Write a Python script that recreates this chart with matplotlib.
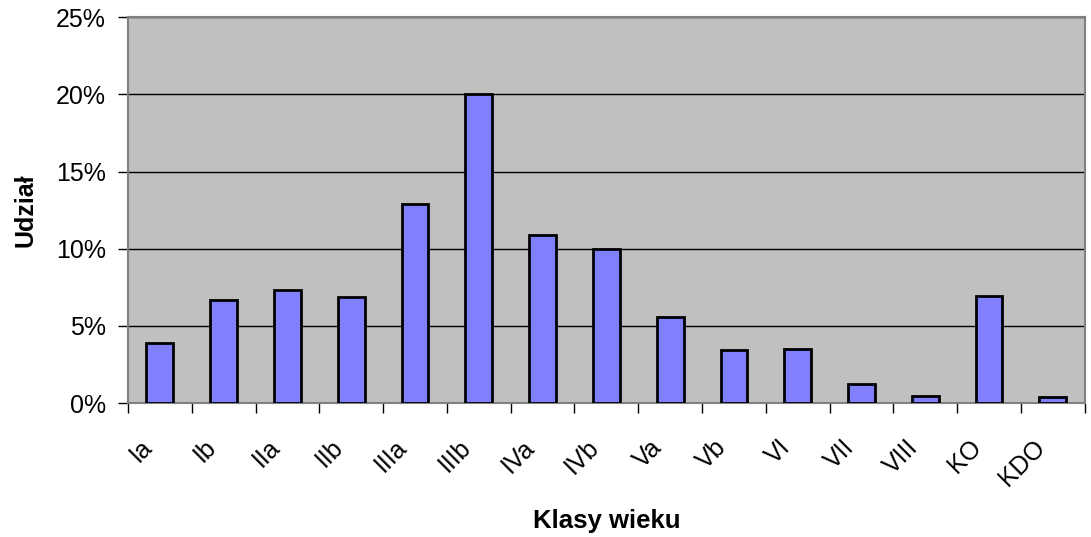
import matplotlib.pyplot as plt
import matplotlib.transforms as mtransforms
import numpy as np
from matplotlib.ticker import PercentFormatter

plt.rcParams['font.family'] = ['Liberation Sans', 'DejaVu Sans']

klasy = ["Ia", "Ib", "IIa", "IIb", "IIIa", "IIIb", "IVa", "IVb", "Va", "Vb",
         "VI", "VII", "VIII", "KO", "KDO"]
udzial = [3.9, 6.7, 7.3, 6.9, 12.9, 20.0, 10.9, 9.95, 5.6, 3.45,
          3.5, 1.25, 0.43, 6.93, 0.37]

fig = plt.figure(figsize=(10.91, 5.37), dpi=100)
ax = fig.add_axes([0.1173, 0.2495, 0.877, 0.7185])
ax.set_facecolor("#c0c0c0")

x = np.arange(len(klasy))
ax.bar(x, udzial, width=0.42, color="#8080ff", edgecolor="black", linewidth=2, zorder=3)

ax.set_xlim(-0.5, len(klasy) - 0.5)
ax.set_ylim(0, 25)
ax.set_yticks(np.arange(0, 26, 5))
ax.yaxis.set_major_formatter(PercentFormatter(decimals=0))
ax.grid(axis="y", color="black", linewidth=1.0, zorder=1)

# kreski miedzy klasami, etykiety na srodku
ax.set_xticks(x)
ax.set_xticks(np.arange(-0.5, len(klasy), 1), minor=True)
ax.tick_params(axis="x", which="major", length=0, pad=23)
ax.tick_params(axis="x", which="minor", length=7, width=1, color="black")
ax.tick_params(axis="y", length=7, width=1, labelsize=18, pad=9)
ax.set_xticklabels(klasy, rotation=45, ha="right", va="top", rotation_mode="anchor", fontsize=18)
offset = mtransforms.ScaledTranslation(-20 / 100, 0, fig.dpi_scale_trans)
for lab in ax.get_xticklabels():
    lab.set_transform(lab.get_transform() + offset)

for s in ax.spines.values():
    s.set_color("#808080")
    s.set_linewidth(1.5)

ax.set_xlabel("Klasy wieku", fontsize=18.5, fontweight="bold")
ax.set_ylabel("Udział", fontsize=18, fontweight="bold")
ax.xaxis.set_label_coords(0.5, -0.275)
ax.yaxis.set_label_coords(-0.095, 0.5)

fig.savefig("out.png", dpi=100)
